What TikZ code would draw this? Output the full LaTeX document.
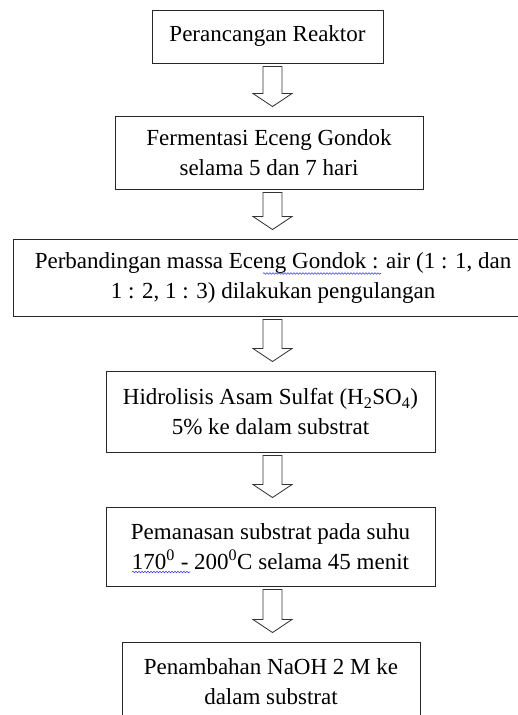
\documentclass[tikz,border=0pt]{standalone}
\usepackage{fontspec}
\setmainfont{Liberation Serif}
\usetikzlibrary{calc, decorations.pathmorphing}
\tikzset{
  every picture/.style={line width=0.9pt},
  stepbox/.style={draw=black!85, align=center, inner sep=0pt, font=\fontsize{23}{30}\selectfont},
  hollow/.style={draw=black!80, line width=0.8pt, line join=miter},
  spell/.style={draw=blue!75, line width=0.6pt, decorate, decoration={snake, amplitude=0.8pt, segment length=3pt}},
}
% hollow block arrow from the bottom of one box to the top of the next
\newcommand\flowarrow[2]{%
  \draw[hollow] let \p1=($(#1.south)+(0,3)$), \p2=($(#2.north)+(0,-9)$) in
    (263pt,\y1) -- (282pt,\y1) -- (282pt,\y2+13pt) -- (292pt,\y2+13pt) -- (272.5pt,\y2)
    -- (253pt,\y2+13pt) -- (263pt,\y2+13pt) -- cycle;}

\begin{document}
\begin{tikzpicture}[x=1pt, y=-1pt]
  \useasboundingbox (0,0) rectangle (518,715);
  \node[stepbox, minimum width=231pt, minimum height=53pt] (b1) at (267.5,36.5) {Perancangan Reaktor};
  \node[stepbox, minimum width=308pt, minimum height=73pt] (b2) at (269,152.5) {Fermentasi Eceng Gondok\\selama 5 dan 7 hari};
  \node[stepbox, minimum width=520pt, minimum height=77pt] (b3) at (273,277.5) {Perbandingan massa Eceng Gondok : air (1 : 1, dan\\1 : 2, 1 : 3) dilakukan pengulangan};
  \node[stepbox, minimum width=329pt, minimum height=81pt] (b4) at (270.5,411.5) {Hidrolisis Asam Sulfat (H\textsubscript{2}SO\textsubscript{4})\\5\% ke dalam substrat};
  \node[stepbox, minimum width=329pt, minimum height=79pt] (b5) at (270.5,546.5) {Pemanasan substrat pada suhu\\170\textsuperscript{0} - 200\textsuperscript{0}C selama 45 menit};
  \node[stepbox, minimum width=298pt, minimum height=80pt] (b6) at (271,682) {Penambahan NaOH 2 M ke\\dalam substrat};
  \foreach \a/\b in {b1/b2, b2/b3, b3/b4, b4/b5, b5/b6} \flowarrow{\a}{\b};
  % spell-check marks
  \draw[spell] ($(b3.center)+(-10,-4)$) -- ($(b3.center)+(108,-4)$);
  \draw[spell] ($(b5.center)+(-138.5,25.5)$) -- ($(b5.center)+(-80.5,25.5)$);
\end{tikzpicture}
\end{document}
